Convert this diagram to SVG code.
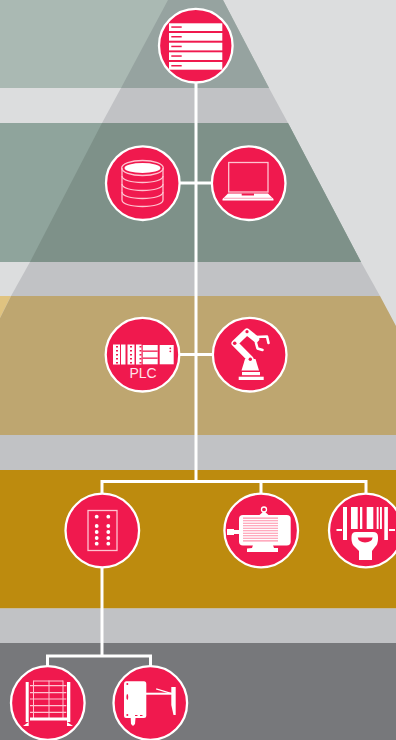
<svg xmlns="http://www.w3.org/2000/svg" width="396" height="740" viewBox="0 0 396 740">
<style>
.disc{fill:#f0194e;stroke:#fff;stroke-width:2.300}
.w{fill:#fff}
.r{fill:#f0194e}
.p{fill:#ffc3d0}
.pl{fill:none;stroke:#ffc3d0;stroke-width:1.300}
.c{fill:none;stroke:#fff;stroke-width:3}
.sl{fill:none;stroke:#fff;stroke-linecap:round;stroke-linejoin:round}
</style>
<rect width="396" height="740" fill="#dcddde"/>
<polygon points="0,0 223,0 269,88 0,88" fill="#aab9b3"/>
<polygon points="0,123 288,123 361,262 0,262" fill="#8fa49c"/>
<polygon points="0,296 11,296 0,318" fill="#e0c380"/>
<polygon points="168,0 223,0 269,88 121,88" fill="#96a3a0"/>
<polygon points="121,88 269,88 288,123 102,123" fill="#c1c2c5"/>
<polygon points="102,123 288,123 361,262 30,262" fill="#7e9189"/>
<polygon points="30,262 361,262 380,296 11,296" fill="#c1c2c5"/>
<polygon points="11,296 380,296 396,326 396,435 0,435 0,318" fill="#bea670"/>
<rect y="435" width="396" height="35" fill="#c1c2c5"/>
<rect y="470" width="396" height="138.500" fill="#bd8b0e"/>
<rect y="608.500" width="396" height="34.500" fill="#c1c2c5"/>
<rect y="643" width="396" height="97" fill="#77787b"/>

<g id="connectors">
<path class="c" d="M196 80V481"/>
<path class="c" d="M178 183H213"/>
<path class="c" d="M178 354.500H214"/>
<path class="c" d="M102 494V481.500H366V494"/>
<path class="c" d="M261 481.500V494"/>
<path class="c" d="M102 566V655"/>
<path class="c" d="M47.500 667V656H150.500V667"/>
</g>

<g id="server">
<circle class="disc" cx="195.800" cy="45.700" r="36.800"/>
<g class="w">
<rect x="169" y="23.300" width="53.300" height="7.700"/>
<rect x="169" y="33" width="53.300" height="7.700"/>
<rect x="169" y="42.700" width="53.300" height="7.700"/>
<rect x="169" y="52.300" width="53.300" height="7.700"/>
<rect x="169" y="62" width="53.300" height="7.700"/>
</g>
<g class="r">
<rect x="171.300" y="26.300" width="10.400" height="1.500"/>
<rect x="171.300" y="36" width="10.400" height="1.500"/>
<rect x="171.300" y="45.700" width="10.400" height="1.500"/>
<rect x="171.300" y="55.300" width="10.400" height="1.500"/>
<rect x="171.300" y="65" width="10.400" height="1.500"/>
</g>
</g>

<g id="database">
<circle class="disc" cx="142.800" cy="183.200" r="36.800"/>
<path class="pl" d="M122 168V200C122 204 131 206.500 142.500 206.500S163 204 163 200V168"/>
<ellipse class="pl" cx="142.500" cy="168" rx="20.800" ry="7.500"/>
<path class="pl" d="M122 176C122 180 131 182.500 142.500 182.500S163 180 163 176"/>
<path class="pl" d="M122 184C122 188 131 190.500 142.500 190.500S163 188 163 184"/>
<path class="pl" d="M122 192C122 196 131 198.500 142.500 198.500S163 196 163 192"/>
<ellipse class="w" cx="142.500" cy="168" rx="18" ry="5"/>
</g>

<g id="laptop">
<circle class="disc" cx="248.700" cy="183.200" r="36.800"/>
<rect class="pl" x="228.700" y="162.500" width="39.300" height="29.500"/>
<polygon class="w" points="228,193.500 268,193.500 273.500,199 273.500,200.500 222.500,200.500 222.500,199"/>
<rect class="r" x="241.700" y="193.500" width="12.300" height="2"/>
<rect class="r" x="224" y="197.800" width="48" height="0.800" opacity=".5"/>
</g>

<g id="plc">
<circle class="disc" cx="142.500" cy="354.700" r="36.800"/>
<g class="w">
<rect x="113" y="344.500" width="7" height="20"/>
<rect x="121" y="344.500" width="4.500" height="20"/>
<rect x="127.500" y="344.500" width="7" height="20"/>
<rect x="136" y="344.500" width="5.500" height="20"/>
<rect x="142.700" y="345" width="15" height="19.300"/>
<rect x="159.700" y="345" width="14" height="19.300"/>
</g>
<g class="r">
<rect x="142.700" y="350.500" width="15" height="1.300"/>
<rect x="142.700" y="357.500" width="15" height="1.300"/>
<circle cx="170.300" cy="348.300" r="0.900"/>
<circle cx="170.300" cy="351.300" r="0.900"/>
<path d="M116 346h2v1.500h-2zM116 350h2v1.500h-2zM116 354h2v1.500h-2zM116 358h2v1.500h-2zM116 362h2v1.500h-2zM130 346h2v1.500h-2zM130 350h2v1.500h-2zM130 354h2v1.500h-2zM130 358h2v1.500h-2zM130 362h2v1.500h-2zM139.500 346h2v1.500h-2zM139.500 350h2v1.500h-2zM139.500 354h2v1.500h-2zM139.500 358h2v1.500h-2zM139.500 362h2v1.500h-2z"/>
</g>
<text x="143" y="378" text-anchor="middle" font-family="'Liberation Sans',Arial,sans-serif" font-size="14" fill="#ffe3ea">PLC</text>
</g>

<g id="robot">
<circle class="disc" cx="249.700" cy="354.700" r="36.800"/>
<rect class="w" x="238.700" y="376.700" width="25" height="3.300"/>
<rect class="w" x="242" y="372" width="18" height="3.200"/>
<polygon class="w" points="245,359 255.500,359 259,370.500 241.500,370.500"/>
<path class="sl" stroke-width="6.500" d="M250.300 359L234.700 343.300L247 331.700L256 339"/>
<circle class="r" cx="250.300" cy="359.300" r="1.700"/>
<circle class="r" cx="234.700" cy="343.300" r="1.800"/>
<circle class="r" cx="247" cy="331.700" r="1.600"/>
<path class="sl" stroke-width="2.600" d="M256 343V337L267 336.500L268.500 343M256 343L257.500 348.500L262.500 350"/>
</g>

<g id="controller">
<circle class="disc" cx="102.300" cy="530.500" r="36.800"/>
<rect class="pl" x="88" y="510.500" width="29" height="40"/>
<g class="w">
<circle cx="96.700" cy="516.700" r="1.900"/><circle cx="108.300" cy="516.700" r="1.900"/>
<circle cx="96.700" cy="526" r="1.900"/><circle cx="108.300" cy="526" r="1.900"/>
<circle cx="96.700" cy="532" r="1.900"/><circle cx="108.300" cy="532" r="1.900"/>
<circle cx="96.700" cy="538" r="1.900"/><circle cx="108.300" cy="538" r="1.900"/>
<circle cx="96.700" cy="543.700" r="1.900"/><circle cx="108.300" cy="543.700" r="1.900"/>
</g>
</g>

<g id="motor">
<circle class="disc" cx="261.200" cy="530.500" r="36.800"/>
<rect class="w" x="227" y="529" width="7" height="6"/>
<rect class="w" x="234" y="530" width="6" height="4"/>
<rect class="w" x="239" y="515" width="51.700" height="30.500" rx="4"/>
<rect x="243" y="517.500" width="35" height="24" fill="#ff8fa9"/>
<path stroke="#fff" stroke-width="1.300" d="M243 519.500H278M243 522H278M243 524.500H278M243 527H278M243 529.500H278M243 532H278M243 534.500H278M243 537H278M243 539.500H278" fill="none"/>
<polygon class="w" points="253,545 273,545 274,548 278,548 278,552 247,552 247,548.500 252,548"/>
<polygon class="w" points="259.500,515 268.500,515 264,511"/>
<circle cx="264" cy="509.500" r="2.500" fill="none" stroke="#fff" stroke-width="1.300"/>
</g>

<g id="barcode">
<circle class="disc" cx="365.800" cy="530.500" r="36.800"/>
<g class="w">
<rect x="343" y="507" width="4" height="33"/>
<rect x="351" y="507" width="6.700" height="22"/>
<rect x="360" y="507" width="2.300" height="22"/>
<rect x="366.700" y="507" width="6.600" height="22"/>
<rect x="376.700" y="507" width="1.900" height="22"/>
<rect x="380" y="507" width="1.900" height="22"/>
<rect x="384.300" y="507" width="3.600" height="33"/>
<rect x="336.500" y="529" width="5.500" height="2"/>
<rect x="389" y="529" width="6" height="2"/>
<path d="M356 532H373Q378 532 378 537V539Q378 544 375 547L372 551V560H359V551L355 547Q351.500 544 351.500 539V537Q351.500 532 356 532Z"/>
</g>
<path class="r" d="M357.700 537.500H372.700Q372 542 365 542.500Q358.500 542 357.700 537.500Z"/>
</g>

<g id="rack">
<circle class="disc" cx="47.800" cy="703" r="36.800"/>
<path stroke="#ffc3d0" stroke-width="1" fill="none" d="M33.500 680.500V718M49 680.500V718M63 680.500V718M33.500 681H63"/>
<path stroke="#ffc3d0" stroke-width="1.200" fill="none" d="M30 685.700H66.300M30 692.700H66.300M30 699H66.300M30 705.700H66.300M30 712.300H66.300"/>
<g class="w">
<rect x="25.700" y="682" width="3" height="40"/>
<rect x="67" y="682" width="3.300" height="40"/>
<polygon points="23,726 28.700,722 28.700,726"/>
<polygon points="67,722 73,726 67,726"/>
<rect x="30" y="717.500" width="37" height="3"/>
</g>
</g>

<g id="sensor">
<circle class="disc" cx="150.300" cy="703" r="36.800"/>
<path class="w" d="M126 681.300H144Q146.300 681.300 146.300 684V716Q146.300 718 144 718H135.500L135 724L133 726L131 724L130.700 718H126Q124 718 124 716V684Q124 681.300 126 681.300Z"/>
<g class="r">
<circle cx="127.300" cy="684" r="1"/>
<circle cx="127.300" cy="715" r="1"/>
<ellipse cx="127.300" cy="697" rx="0.900" ry="3"/>
<rect x="135" y="715" width="2.500" height="1"/>
<rect x="140" y="715" width="2.500" height="1"/>
</g>
<rect class="w" x="146" y="692.700" width="26" height="2"/>
<polygon class="w" points="156.300,688.200 171,692.700 171,694 156,689.500"/>
<polygon class="w" points="171.300,687 175.700,687 175.700,715 173.500,715 171.300,705"/>
</g>
</svg>
